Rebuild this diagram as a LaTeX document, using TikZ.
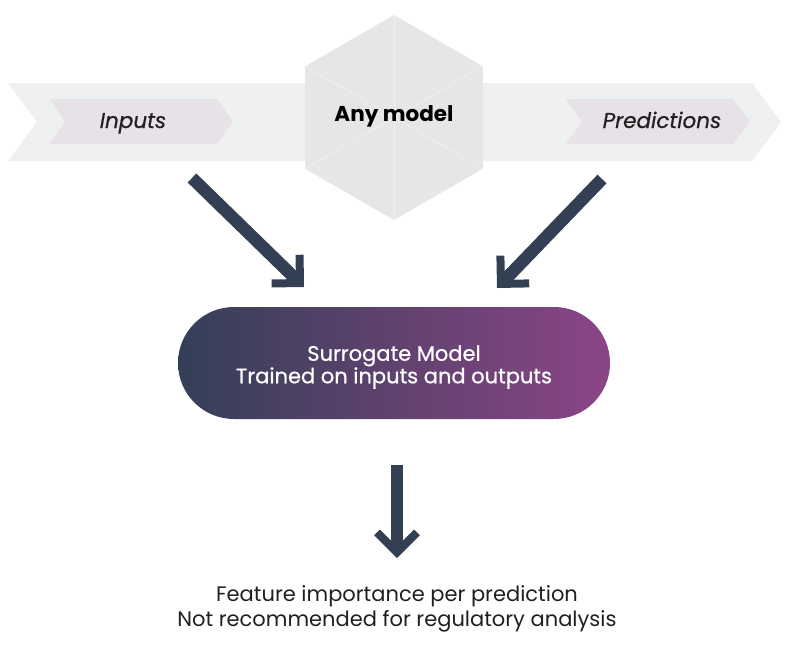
\documentclass[tikz,border=0pt]{standalone}
\usepackage{fontspec}
\usepackage{tikz}
\usepackage{xcolor}
\usetikzlibrary{arrows.meta,shapes.geometric}
\setmainfont{Poppins}
\newfontfamily\mediumfont{Poppins}[FakeBold=0.6]

\definecolor{bannergray}{HTML}{EFF0F0}
\definecolor{tagpink}{HTML}{E7E1E8}
\definecolor{hexgray}{HTML}{E5E6E8}
\definecolor{hexline}{HTML}{EEEFF0}
\definecolor{arrowcol}{HTML}{333F52}
\definecolor{pillleft}{HTML}{343F57}
\definecolor{pillright}{HTML}{8B4587}
\definecolor{inkgray}{HTML}{231F20}

\begin{document}
\begin{tikzpicture}[
    x=1pt, y=-1pt,
    hexagon/.style={
        regular polygon,
        regular polygon sides=6,
        shape border rotate=30,
        minimum size=205pt,
        inner sep=0pt,
        fill=hexgray
    },
    taglabel/.style={
        anchor=base,
        text=inkgray,
        font=\fontsize{21.5}{24}\selectfont\mediumfont\itshape
    },
    surrogate/.style={
        rounded corners=56pt,
        minimum width=432pt,
        minimum height=112pt,
        left color=pillleft,
        right color=pillright
    },
    pilltext/.style={
        text=white,
        align=center,
        font=\fontsize{21}{22.5}\selectfont\mediumfont
    },
    result/.style={
        text=inkgray,
        align=center,
        font=\fontsize{21}{25}\selectfont
    },
    flow/.style={
        draw=arrowcol,
        line width=12.5pt,
        -{Straight Barb[length=20pt, width=40pt, line width=8pt]}
    }
]
    \useasboundingbox (0,0) rectangle (794,648);

    % banner and tags
    \fill[bannergray] (8,83) -- (752,83) -- (781,122) -- (752,161)
        -- (8,161) -- (37,122) -- cycle;
    \fill[tagpink] (50,99) -- (217,99) -- (233,121.5) -- (217,144)
        -- (50,144) -- (65,121.5) -- cycle;
    \fill[tagpink] (566,99) -- (733,99) -- (750,121.5) -- (733,144)
        -- (566,144) -- (582,121.5) -- cycle;
    \node[taglabel] (inputs) at (133,128) {Inputs};
    \node[taglabel] (predictions) at (662,128) {Predictions};

    % model
    \node[hexagon] (model) at (394,117.5) {};
    \foreach \c in {1,...,6}
        \draw[hexline, line width=0.8pt] (model.center) -- (model.corner \c);
    \node[anchor=base, font=\fontsize{21.5}{24}\selectfont\bfseries]
        (modeltext) at (394,121) {Any model};

    % surrogate
    \node[surrogate] (pill) at (394,363) {};
    \node[pilltext] (pilltext) at (394,367)
        {Surrogate Model\\Trained on inputs and outputs};

    \node[result] (output) at (397,609)
        {Feature importance per prediction\\Not recommended for regulatory analysis};

    % arrows
    \coordinate (inputsfoot) at (192,178);
    \coordinate (pillleft) at (304,287);
    \coordinate (predfoot) at (602,179);
    \coordinate (pillright) at (497,288);
    \coordinate (pillfoot) at (397,465);
    \coordinate (outputtop) at (397,558);

    \draw[flow] (inputsfoot) -- (pillleft);
    \draw[flow] (predfoot) -- (pillright);
    \draw[flow] (pillfoot) -- (outputtop);
\end{tikzpicture}
\end{document}
